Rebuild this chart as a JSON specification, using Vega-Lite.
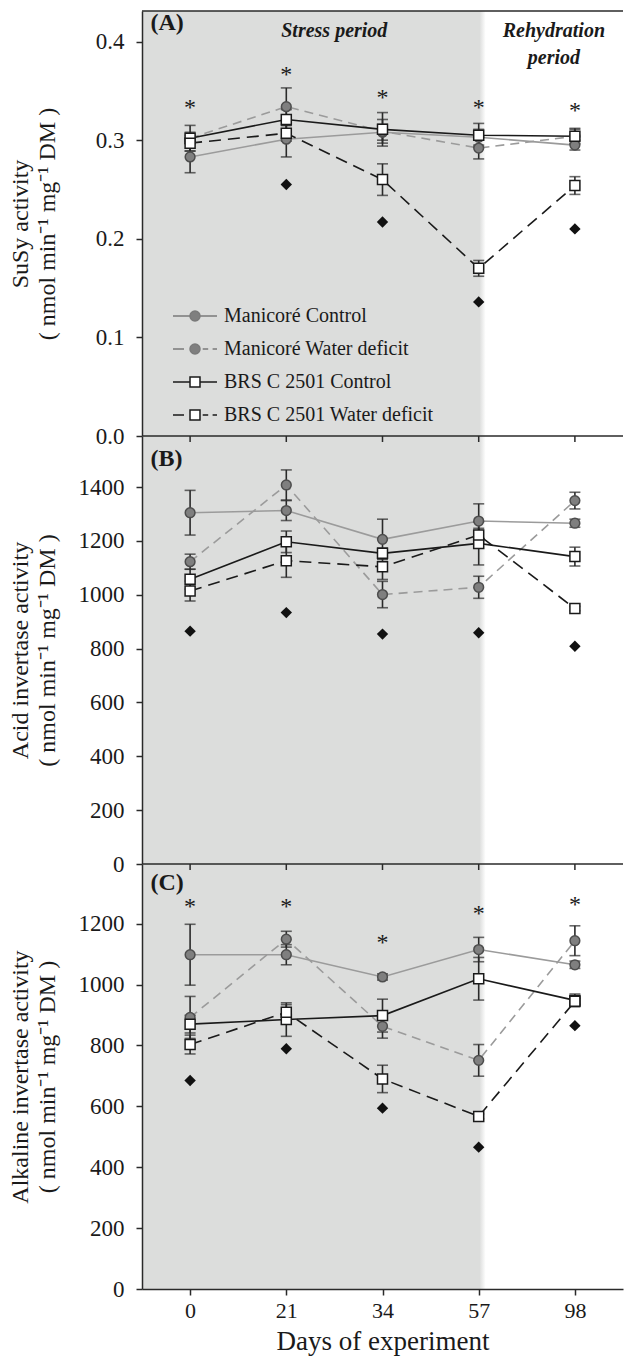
{
  "$schema": "https://vega.github.io/schema/vega-lite/v6.json",
  "autosize": {"type": "pad"},
  "padding": {"left": 7, "top": 10, "right": 0, "bottom": 2},
  "spacing": 0,
  "bounds": "flush",
  "config": {
    "font": "Liberation Serif",
    "view": {"stroke": null},
    "axis": {
      "labelFont": "Liberation Serif", "labelFontSize": 23, "labelColor": "#1a1a1a",
      "titleFont": "Liberation Serif", "titleFontSize": 24, "titleFontWeight": "normal", "titleColor": "#1a1a1a", "titleLineHeight": 27,
      "domainColor": "#2a2a2a", "domainWidth": 1.5, "tickColor": "#2a2a2a", "tickWidth": 1.5, "tickSize": 6,
      "labelPadding": 12, "grid": false
    }
  },
  "datasets": {
    "pts": [
      {"panel": "A", "day": 0, "series": "Manicoré Control", "value": 0.283, "err": 0.016},
      {"panel": "A", "day": 0, "series": "Manicoré Water deficit", "value": 0.302, "err": 0.006},
      {"panel": "A", "day": 0, "series": "BRS C 2501 Control", "value": 0.302, "err": 0.013},
      {"panel": "A", "day": 0, "series": "BRS C 2501 Water deficit", "value": 0.297, "err": 0.008},
      {"panel": "A", "day": 21, "series": "Manicoré Control", "value": 0.301, "err": 0.018},
      {"panel": "A", "day": 21, "series": "Manicoré Water deficit", "value": 0.334, "err": 0.019},
      {"panel": "A", "day": 21, "series": "BRS C 2501 Control", "value": 0.321, "err": 0.010},
      {"panel": "A", "day": 21, "series": "BRS C 2501 Water deficit", "value": 0.307, "err": 0.008},
      {"panel": "A", "day": 34, "series": "Manicoré Control", "value": 0.308, "err": 0.008},
      {"panel": "A", "day": 34, "series": "Manicoré Water deficit", "value": 0.309, "err": 0.012},
      {"panel": "A", "day": 34, "series": "BRS C 2501 Control", "value": 0.311, "err": 0.017},
      {"panel": "A", "day": 34, "series": "BRS C 2501 Water deficit", "value": 0.260, "err": 0.016},
      {"panel": "A", "day": 57, "series": "Manicoré Control", "value": 0.303, "err": 0.008},
      {"panel": "A", "day": 57, "series": "Manicoré Water deficit", "value": 0.292, "err": 0.011},
      {"panel": "A", "day": 57, "series": "BRS C 2501 Control", "value": 0.305, "err": 0.012},
      {"panel": "A", "day": 57, "series": "BRS C 2501 Water deficit", "value": 0.170, "err": 0.008},
      {"panel": "A", "day": 98, "series": "Manicoré Control", "value": 0.295, "err": 0.005},
      {"panel": "A", "day": 98, "series": "Manicoré Water deficit", "value": 0.304, "err": 0.007},
      {"panel": "A", "day": 98, "series": "BRS C 2501 Control", "value": 0.304, "err": 0.008},
      {"panel": "A", "day": 98, "series": "BRS C 2501 Water deficit", "value": 0.254, "err": 0.009},
      {"panel": "B", "day": 0, "series": "Manicoré Control", "value": 1305, "err": 83},
      {"panel": "B", "day": 0, "series": "Manicoré Water deficit", "value": 1123, "err": 28},
      {"panel": "B", "day": 0, "series": "BRS C 2501 Control", "value": 1058, "err": 37},
      {"panel": "B", "day": 0, "series": "BRS C 2501 Water deficit", "value": 1014, "err": 37},
      {"panel": "B", "day": 21, "series": "Manicoré Control", "value": 1313, "err": 37},
      {"panel": "B", "day": 21, "series": "Manicoré Water deficit", "value": 1408, "err": 56},
      {"panel": "B", "day": 21, "series": "BRS C 2501 Control", "value": 1197, "err": 40},
      {"panel": "B", "day": 21, "series": "BRS C 2501 Water deficit", "value": 1127, "err": 62},
      {"panel": "B", "day": 34, "series": "Manicoré Control", "value": 1206, "err": 75},
      {"panel": "B", "day": 34, "series": "Manicoré Water deficit", "value": 1001, "err": 49},
      {"panel": "B", "day": 34, "series": "BRS C 2501 Control", "value": 1154, "err": 20},
      {"panel": "B", "day": 34, "series": "BRS C 2501 Water deficit", "value": 1104, "err": 47},
      {"panel": "B", "day": 57, "series": "Manicoré Control", "value": 1274, "err": 64},
      {"panel": "B", "day": 57, "series": "Manicoré Water deficit", "value": 1028, "err": 41},
      {"panel": "B", "day": 57, "series": "BRS C 2501 Control", "value": 1191, "err": 80},
      {"panel": "B", "day": 57, "series": "BRS C 2501 Water deficit", "value": 1222, "err": 25},
      {"panel": "B", "day": 98, "series": "Manicoré Control", "value": 1266, "err": 15},
      {"panel": "B", "day": 98, "series": "Manicoré Water deficit", "value": 1350, "err": 31},
      {"panel": "B", "day": 98, "series": "BRS C 2501 Control", "value": 1142, "err": 35},
      {"panel": "B", "day": 98, "series": "BRS C 2501 Water deficit", "value": 949, "err": 8},
      {"panel": "C", "day": 0, "series": "Manicoré Control", "value": 1098, "err": 100},
      {"panel": "C", "day": 0, "series": "Manicoré Water deficit", "value": 892, "err": 69},
      {"panel": "C", "day": 0, "series": "BRS C 2501 Control", "value": 870, "err": 29},
      {"panel": "C", "day": 0, "series": "BRS C 2501 Water deficit", "value": 803, "err": 31},
      {"panel": "C", "day": 21, "series": "Manicoré Control", "value": 1098, "err": 33},
      {"panel": "C", "day": 21, "series": "Manicoré Water deficit", "value": 1149, "err": 26},
      {"panel": "C", "day": 21, "series": "BRS C 2501 Control", "value": 885, "err": 55},
      {"panel": "C", "day": 21, "series": "BRS C 2501 Water deficit", "value": 909, "err": 25},
      {"panel": "C", "day": 34, "series": "Manicoré Control", "value": 1025, "err": 10},
      {"panel": "C", "day": 34, "series": "Manicoré Water deficit", "value": 863, "err": 39},
      {"panel": "C", "day": 34, "series": "BRS C 2501 Control", "value": 898, "err": 54},
      {"panel": "C", "day": 34, "series": "BRS C 2501 Water deficit", "value": 690, "err": 45},
      {"panel": "C", "day": 57, "series": "Manicoré Control", "value": 1115, "err": 40},
      {"panel": "C", "day": 57, "series": "Manicoré Water deficit", "value": 751, "err": 52},
      {"panel": "C", "day": 57, "series": "BRS C 2501 Control", "value": 1019, "err": 70},
      {"panel": "C", "day": 57, "series": "BRS C 2501 Water deficit", "value": 567, "err": 8},
      {"panel": "C", "day": 98, "series": "Manicoré Control", "value": 1065, "err": 12},
      {"panel": "C", "day": 98, "series": "Manicoré Water deficit", "value": 1144, "err": 49},
      {"panel": "C", "day": 98, "series": "BRS C 2501 Control", "value": 948, "err": 21},
      {"panel": "C", "day": 98, "series": "BRS C 2501 Water deficit", "value": 945, "err": 10}
    ],
    "marks": [
      {"panel": "A", "day": 21, "kind": "diamond", "value": 0.255},
      {"panel": "A", "day": 34, "kind": "diamond", "value": 0.217},
      {"panel": "A", "day": 57, "kind": "diamond", "value": 0.136},
      {"panel": "A", "day": 98, "kind": "diamond", "value": 0.210},
      {"panel": "A", "day": 0, "kind": "star", "value": 0.335},
      {"panel": "A", "day": 21, "kind": "star", "value": 0.368},
      {"panel": "A", "day": 34, "kind": "star", "value": 0.345},
      {"panel": "A", "day": 57, "kind": "star", "value": 0.335},
      {"panel": "A", "day": 98, "kind": "star", "value": 0.332},
      {"panel": "B", "day": 0, "kind": "diamond", "value": 865},
      {"panel": "B", "day": 21, "kind": "diamond", "value": 934},
      {"panel": "B", "day": 34, "kind": "diamond", "value": 854},
      {"panel": "B", "day": 57, "kind": "diamond", "value": 859},
      {"panel": "B", "day": 98, "kind": "diamond", "value": 809},
      {"panel": "C", "day": 0, "kind": "diamond", "value": 685},
      {"panel": "C", "day": 21, "kind": "diamond", "value": 789},
      {"panel": "C", "day": 34, "kind": "diamond", "value": 594},
      {"panel": "C", "day": 57, "kind": "diamond", "value": 466},
      {"panel": "C", "day": 98, "kind": "diamond", "value": 865},
      {"panel": "C", "day": 0, "kind": "star", "value": 1262},
      {"panel": "C", "day": 21, "kind": "star", "value": 1262},
      {"panel": "C", "day": 34, "kind": "star", "value": 1144},
      {"panel": "C", "day": 57, "kind": "star", "value": 1238},
      {"panel": "C", "day": 98, "kind": "star", "value": 1268}
    ],
    "annot": [
      {"panel": "A", "kind": "shade", "day": 0, "value": 0.431},
      {"panel": "A", "kind": "top", "day": 0, "value": 0.431},
      {"panel": "A", "kind": "label", "label": "(A)", "day": 0, "value": 0.431},
      {"panel": "A", "kind": "stress", "label": "Stress period", "day": 21, "value": 0.405},
      {"panel": "A", "kind": "rehyd", "label": "Rehydration\nperiod", "day": 98, "value": 0.405},
      {"panel": "B", "kind": "shade", "day": 0, "value": 1590},
      {"panel": "B", "kind": "top", "day": 0, "value": 1590},
      {"panel": "B", "kind": "tick", "day": 0, "value": 1590},
      {"panel": "B", "kind": "tick", "day": 21, "value": 1590},
      {"panel": "B", "kind": "tick", "day": 34, "value": 1590},
      {"panel": "B", "kind": "tick", "day": 57, "value": 1590},
      {"panel": "B", "kind": "tick", "day": 98, "value": 1590},
      {"panel": "B", "kind": "label", "label": "(B)", "day": 0, "value": 1590},
      {"panel": "C", "kind": "shade", "day": 0, "value": 1396},
      {"panel": "C", "kind": "top", "day": 0, "value": 1396},
      {"panel": "C", "kind": "tick", "day": 0, "value": 1396},
      {"panel": "C", "kind": "tick", "day": 21, "value": 1396},
      {"panel": "C", "kind": "tick", "day": 34, "value": 1396},
      {"panel": "C", "kind": "tick", "day": 57, "value": 1396},
      {"panel": "C", "kind": "tick", "day": 98, "value": 1396},
      {"panel": "C", "kind": "label", "label": "(C)", "day": 0, "value": 1396}
    ]
  },
  "resolve": {
    "scale": {"shape": "independent", "fill": "independent", "stroke": "independent"},
    "legend": {"shape": "independent", "fill": "independent", "stroke": "independent"}
  },
  "vconcat": [
    {
      "width": 481, "height": 425,
      "encoding": {
        "x": {"field": "day", "type": "ordinal", "scale": {"type": "point", "padding": 0.5}, "axis": null},
        "y": {"field": "value", "type": "quantitative", "scale": {"domain": [0, 0.431], "nice": false}, "axis": {"title": ["SuSy activity", "( nmol min⁻¹ mg⁻¹ DM )"], "values": [0, 0.1, 0.2, 0.3, 0.4], "format": ".1f", "titleX": -110, "zindex": 1}}
      },
      "layer": [
        {"data": {"name": "annot"}, "transform": [{"filter": "datum.panel === 'A' && datum.kind === 'shade'"}],
         "mark": {"type": "rect", "xOffset": -48.1, "x2Offset": 7, "fill": {"gradient": "linear", "x1": 0, "x2": 1, "y1": 0, "y2": 0, "stops": [{"offset": 0, "color": "#dcdddc"}, {"offset": 0.982, "color": "#dcdddc"}, {"offset": 1, "color": "#ffffff"}]}},
         "encoding": {"x2": {"datum": 57}, "y2": {"datum": 0}}},
        {"data": {"name": "pts"}, "transform": [{"filter": "datum.panel === 'A' && datum.series === 'Manicoré Control'"}],
         "mark": {"type": "line", "stroke": "#9b9b9b", "strokeWidth": 1.6}},
        {"data": {"name": "pts"}, "transform": [{"filter": "datum.panel === 'A' && datum.series === 'Manicoré Water deficit'"}],
         "mark": {"type": "line", "stroke": "#9b9b9b", "strokeWidth": 1.6, "strokeDash": [9, 6]}},
        {"data": {"name": "pts"}, "transform": [{"filter": "datum.panel === 'A' && datum.series === 'BRS C 2501 Control'"}],
         "mark": {"type": "line", "stroke": "#1a1a1a", "strokeWidth": 1.6}},
        {"data": {"name": "pts"}, "transform": [{"filter": "datum.panel === 'A' && datum.series === 'BRS C 2501 Water deficit'"}],
         "mark": {"type": "line", "stroke": "#1a1a1a", "strokeWidth": 1.6, "strokeDash": [12, 7]}},
        {"data": {"name": "pts"}, "transform": [{"filter": "datum.panel === 'A'"}],
         "mark": {"type": "errorbar", "ticks": {"size": 11, "thickness": 1.6}, "thickness": 1.6, "color": "#2a2a2a"},
         "encoding": {"yError": {"field": "err"}, "detail": {"field": "series"}}},
        {"data": {"name": "pts"}, "transform": [{"filter": "datum.panel === 'A' && indexof(datum.series, 'Manicoré') === 0"}],
         "mark": {"type": "point", "shape": "circle", "size": 95, "strokeWidth": 1.5, "opacity": 1, "filled": true, "fill": "#7f7f7f", "stroke": "#4d4d4d"}},
        {"data": {"name": "pts"}, "transform": [{"filter": "datum.panel === 'A' && indexof(datum.series, 'BRS') === 0"}],
         "mark": {"type": "point", "shape": "square", "size": 100, "strokeWidth": 1.5, "opacity": 1, "filled": true, "fill": "#ffffff", "stroke": "#1a1a1a"}},
        {"data": {"name": "pts"}, "transform": [{"filter": "datum.panel === 'legend-only'"}],
         "mark": {"type": "point", "opacity": 1, "filled": true, "strokeWidth": 1.5},
         "encoding": {
           "shape": {"field": "series", "type": "nominal", "scale": {"domain": ["Manicoré Control", "Manicoré Water deficit", "BRS C 2501 Control", "BRS C 2501 Water deficit"], "range": ["M-1,0H-0.23M0.23,0H1M-0.227,0A0.227,0.227,0,1,1,0.227,0A0.227,0.227,0,1,1,-0.227,0Z", "M-1,0H-0.5M0.35,0H0.6M0.8,0H1M-0.227,0A0.227,0.227,0,1,1,0.227,0A0.227,0.227,0,1,1,-0.227,0Z", "M-1,0H-0.23M0.23,0H1M-0.227,-0.227H0.227V0.227H-0.227Z", "M-1,0H-0.5M0.35,0H0.6M0.8,0H1M-0.227,-0.227H0.227V0.227H-0.227Z"]},
             "legend": {"orient": "none", "legendX": 30, "legendY": 282, "title": null, "padding": 0, "labelFont": "Liberation Serif", "labelFontSize": 20, "labelColor": "#1a1a1a", "labelLimit": 400, "symbolSize": 1936, "labelOffset": 6, "rowPadding": -3, "symbolStrokeWidth": 1.5, "symbolOpacity": 1}},
           "fill": {"field": "series", "type": "nominal", "scale": {"domain": ["Manicoré Control", "Manicoré Water deficit", "BRS C 2501 Control", "BRS C 2501 Water deficit"], "range": ["#7f7f7f", "#7f7f7f", "#ffffff", "#ffffff"]}},
           "stroke": {"field": "series", "type": "nominal", "scale": {"domain": ["Manicoré Control", "Manicoré Water deficit", "BRS C 2501 Control", "BRS C 2501 Water deficit"], "range": ["#7a7a7a", "#7a7a7a", "#1a1a1a", "#1a1a1a"]}}
         }},
        {"data": {"name": "marks"}, "transform": [{"filter": "datum.panel === 'A' && datum.kind === 'diamond'"}],
         "mark": {"type": "point", "shape": "diamond", "filled": true, "color": "#111111", "size": 130, "opacity": 1}},
        {"data": {"name": "marks"}, "transform": [{"filter": "datum.panel === 'A' && datum.kind === 'star'"}],
         "mark": {"type": "text", "text": "*", "fontSize": 24, "baseline": "alphabetic", "dy": 9, "color": "#1a1a1a", "font": "Liberation Serif"}},
        {"data": {"name": "annot"}, "transform": [{"filter": "datum.panel === 'A' && datum.kind === 'top'"}],
         "mark": {"type": "rule", "color": "#2a2a2a", "strokeWidth": 1.5, "xOffset": -48.1, "x2Offset": 48.1},
         "encoding": {"x2": {"datum": 98}}},
        {"data": {"name": "annot"}, "transform": [{"filter": "datum.panel === 'A' && datum.kind === 'label'"}],
         "mark": {"type": "text", "align": "left", "baseline": "alphabetic", "dx": -39.7, "dy": 18.5, "fontSize": 24, "fontWeight": "bold", "color": "#1a1a1a", "font": "Liberation Serif"},
         "encoding": {"text": {"field": "label"}}},
        {"data": {"name": "annot"}, "transform": [{"filter": "datum.panel === 'A' && datum.kind === 'stress'"}],
         "mark": {"type": "text", "dx": 48, "fontSize": 20, "fontStyle": "italic", "fontWeight": "bold", "baseline": "alphabetic", "color": "#1a1a1a", "font": "Liberation Serif"},
         "encoding": {"text": {"field": "label"}}},
        {"data": {"name": "annot"}, "transform": [{"filter": "datum.panel === 'A' && datum.kind === 'rehyd'"}],
         "mark": {"type": "text", "dx": -21, "fontSize": 20, "fontStyle": "italic", "fontWeight": "bold", "baseline": "alphabetic", "lineBreak": "\n", "lineHeight": 27, "color": "#1a1a1a", "font": "Liberation Serif"},
         "encoding": {"text": {"field": "label"}}}
      ]
    },
    {
      "width": 481, "height": 428,
      "encoding": {
        "x": {"field": "day", "type": "ordinal", "scale": {"type": "point", "padding": 0.5}, "axis": null},
        "y": {"field": "value", "type": "quantitative", "scale": {"domain": [0, 1590], "nice": false}, "axis": {"title": ["Acid invertase activity", "( nmol min⁻¹ mg⁻¹ DM )"], "values": [0, 200, 400, 600, 800, 1000, 1200, 1400], "format": "d", "titleX": -110, "zindex": 1}}
      },
      "layer": [
        {"data": {"name": "annot"}, "transform": [{"filter": "datum.panel === 'B' && datum.kind === 'shade'"}],
         "mark": {"type": "rect", "xOffset": -48.1, "x2Offset": 7, "fill": {"gradient": "linear", "x1": 0, "x2": 1, "y1": 0, "y2": 0, "stops": [{"offset": 0, "color": "#dcdddc"}, {"offset": 0.982, "color": "#dcdddc"}, {"offset": 1, "color": "#ffffff"}]}},
         "encoding": {"x2": {"datum": 57}, "y2": {"datum": 0}}},
        {"data": {"name": "pts"}, "transform": [{"filter": "datum.panel === 'B' && datum.series === 'Manicoré Control'"}],
         "mark": {"type": "line", "stroke": "#9b9b9b", "strokeWidth": 1.6}},
        {"data": {"name": "pts"}, "transform": [{"filter": "datum.panel === 'B' && datum.series === 'Manicoré Water deficit'"}],
         "mark": {"type": "line", "stroke": "#9b9b9b", "strokeWidth": 1.6, "strokeDash": [9, 6]}},
        {"data": {"name": "pts"}, "transform": [{"filter": "datum.panel === 'B' && datum.series === 'BRS C 2501 Control'"}],
         "mark": {"type": "line", "stroke": "#1a1a1a", "strokeWidth": 1.6}},
        {"data": {"name": "pts"}, "transform": [{"filter": "datum.panel === 'B' && datum.series === 'BRS C 2501 Water deficit'"}],
         "mark": {"type": "line", "stroke": "#1a1a1a", "strokeWidth": 1.6, "strokeDash": [12, 7]}},
        {"data": {"name": "pts"}, "transform": [{"filter": "datum.panel === 'B'"}],
         "mark": {"type": "errorbar", "ticks": {"size": 11, "thickness": 1.6}, "thickness": 1.6, "color": "#2a2a2a"},
         "encoding": {"yError": {"field": "err"}, "detail": {"field": "series"}}},
        {"data": {"name": "pts"}, "transform": [{"filter": "datum.panel === 'B' && indexof(datum.series, 'Manicoré') === 0"}],
         "mark": {"type": "point", "shape": "circle", "size": 95, "strokeWidth": 1.5, "opacity": 1, "filled": true, "fill": "#7f7f7f", "stroke": "#4d4d4d"}},
        {"data": {"name": "pts"}, "transform": [{"filter": "datum.panel === 'B' && indexof(datum.series, 'BRS') === 0"}],
         "mark": {"type": "point", "shape": "square", "size": 100, "strokeWidth": 1.5, "opacity": 1, "filled": true, "fill": "#ffffff", "stroke": "#1a1a1a"}},
        {"data": {"name": "marks"}, "transform": [{"filter": "datum.panel === 'B' && datum.kind === 'diamond'"}],
         "mark": {"type": "point", "shape": "diamond", "filled": true, "color": "#111111", "size": 130, "opacity": 1}},
        {"data": {"name": "annot"}, "transform": [{"filter": "datum.panel === 'B' && datum.kind === 'top'"}],
         "mark": {"type": "rule", "color": "#2a2a2a", "strokeWidth": 1.5, "xOffset": -48.1, "x2Offset": 48.1},
         "encoding": {"x2": {"datum": 98}}},
        {"data": {"name": "annot"}, "transform": [{"filter": "datum.panel === 'B' && datum.kind === 'tick'"}],
         "mark": {"type": "rule", "color": "#2a2a2a", "strokeWidth": 1.5, "y2Offset": 6},
         "encoding": {"y2": {"datum": 1590}}},
        {"data": {"name": "annot"}, "transform": [{"filter": "datum.panel === 'B' && datum.kind === 'label'"}],
         "mark": {"type": "text", "align": "left", "baseline": "alphabetic", "dx": -39.7, "dy": 30, "fontSize": 24, "fontWeight": "bold", "color": "#1a1a1a", "font": "Liberation Serif"},
         "encoding": {"text": {"field": "label"}}}
      ]
    },
    {
      "width": 481, "height": 425,
      "encoding": {
        "x": {"field": "day", "type": "ordinal", "scale": {"type": "point", "padding": 0.5}, "axis": {"title": "Days of experiment", "labelAngle": 0, "labelFontSize": 22, "titleFontSize": 27, "labelPadding": 5, "titlePadding": 7, "zindex": 1}},
        "y": {"field": "value", "type": "quantitative", "scale": {"domain": [0, 1396], "nice": false}, "axis": {"title": ["Alkaline invertase activity", "( nmol min⁻¹ mg⁻¹ DM )"], "values": [0, 200, 400, 600, 800, 1000, 1200], "format": "d", "titleX": -110, "zindex": 1}}
      },
      "layer": [
        {"data": {"name": "annot"}, "transform": [{"filter": "datum.panel === 'C' && datum.kind === 'shade'"}],
         "mark": {"type": "rect", "xOffset": -48.1, "x2Offset": 7, "fill": {"gradient": "linear", "x1": 0, "x2": 1, "y1": 0, "y2": 0, "stops": [{"offset": 0, "color": "#dcdddc"}, {"offset": 0.982, "color": "#dcdddc"}, {"offset": 1, "color": "#ffffff"}]}},
         "encoding": {"x2": {"datum": 57}, "y2": {"datum": 0}}},
        {"data": {"name": "pts"}, "transform": [{"filter": "datum.panel === 'C' && datum.series === 'Manicoré Control'"}],
         "mark": {"type": "line", "stroke": "#9b9b9b", "strokeWidth": 1.6}},
        {"data": {"name": "pts"}, "transform": [{"filter": "datum.panel === 'C' && datum.series === 'Manicoré Water deficit'"}],
         "mark": {"type": "line", "stroke": "#9b9b9b", "strokeWidth": 1.6, "strokeDash": [9, 6]}},
        {"data": {"name": "pts"}, "transform": [{"filter": "datum.panel === 'C' && datum.series === 'BRS C 2501 Control'"}],
         "mark": {"type": "line", "stroke": "#1a1a1a", "strokeWidth": 1.6}},
        {"data": {"name": "pts"}, "transform": [{"filter": "datum.panel === 'C' && datum.series === 'BRS C 2501 Water deficit'"}],
         "mark": {"type": "line", "stroke": "#1a1a1a", "strokeWidth": 1.6, "strokeDash": [12, 7]}},
        {"data": {"name": "pts"}, "transform": [{"filter": "datum.panel === 'C'"}],
         "mark": {"type": "errorbar", "ticks": {"size": 11, "thickness": 1.6}, "thickness": 1.6, "color": "#2a2a2a"},
         "encoding": {"yError": {"field": "err"}, "detail": {"field": "series"}}},
        {"data": {"name": "pts"}, "transform": [{"filter": "datum.panel === 'C' && indexof(datum.series, 'Manicoré') === 0"}],
         "mark": {"type": "point", "shape": "circle", "size": 95, "strokeWidth": 1.5, "opacity": 1, "filled": true, "fill": "#7f7f7f", "stroke": "#4d4d4d"}},
        {"data": {"name": "pts"}, "transform": [{"filter": "datum.panel === 'C' && indexof(datum.series, 'BRS') === 0"}],
         "mark": {"type": "point", "shape": "square", "size": 100, "strokeWidth": 1.5, "opacity": 1, "filled": true, "fill": "#ffffff", "stroke": "#1a1a1a"}},
        {"data": {"name": "marks"}, "transform": [{"filter": "datum.panel === 'C' && datum.kind === 'diamond'"}],
         "mark": {"type": "point", "shape": "diamond", "filled": true, "color": "#111111", "size": 130, "opacity": 1}},
        {"data": {"name": "marks"}, "transform": [{"filter": "datum.panel === 'C' && datum.kind === 'star'"}],
         "mark": {"type": "text", "text": "*", "fontSize": 24, "baseline": "alphabetic", "dy": 9, "color": "#1a1a1a", "font": "Liberation Serif"}},
        {"data": {"name": "annot"}, "transform": [{"filter": "datum.panel === 'C' && datum.kind === 'top'"}],
         "mark": {"type": "rule", "color": "#2a2a2a", "strokeWidth": 1.5, "xOffset": -48.1, "x2Offset": 48.1},
         "encoding": {"x2": {"datum": 98}}},
        {"data": {"name": "annot"}, "transform": [{"filter": "datum.panel === 'C' && datum.kind === 'tick'"}],
         "mark": {"type": "rule", "color": "#2a2a2a", "strokeWidth": 1.5, "y2Offset": 6},
         "encoding": {"y2": {"datum": 1396}}},
        {"data": {"name": "annot"}, "transform": [{"filter": "datum.panel === 'C' && datum.kind === 'label'"}],
         "mark": {"type": "text", "align": "left", "baseline": "alphabetic", "dx": -39.7, "dy": 26, "fontSize": 24, "fontWeight": "bold", "color": "#1a1a1a", "font": "Liberation Serif"},
         "encoding": {"text": {"field": "label"}}}
      ]
    }
  ]
}
